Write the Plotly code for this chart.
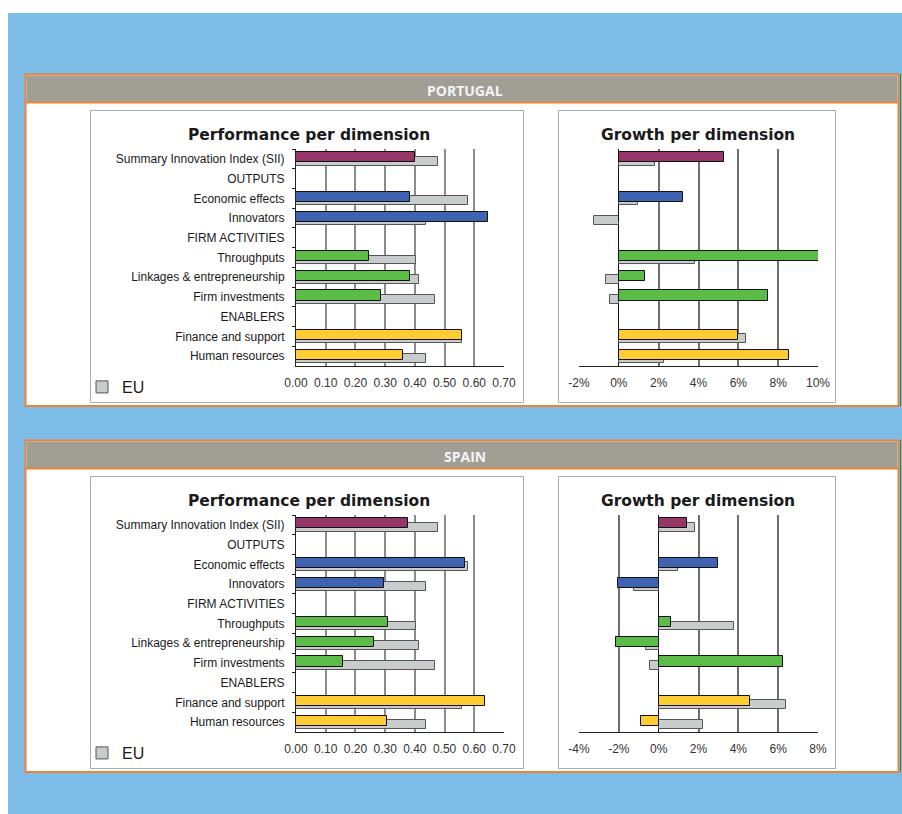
import plotly.graph_objects as go

W, H = 902, 814

# ---------------- data ----------------
categories = ["Summary Innovation Index (SII)", "OUTPUTS", "Economic effects", "Innovators",
              "FIRM ACTIVITIES", "Throughputs", "Linkages & entrepreneurship", "Firm investments",
              "ENABLERS", "Finance and support", "Human resources"]

perf_portugal = [0.40, None, 0.382, 0.645, None, 0.244, 0.382, 0.286, None, 0.560, 0.359]
perf_spain    = [0.378, None, 0.570, 0.295, None, 0.308, 0.261, 0.159, None, 0.636, 0.305]
perf_eu       = [0.477, None, 0.579, 0.436, None, 0.404, 0.414, 0.468, None, 0.560, 0.436]

growth_portugal = [5.26, None, 3.21, 0.0, None, 10.07, 1.31, 7.47, None, 5.97, 8.52]
growth_spain    = [1.41, None, 2.98, -2.05, None, 0.61, -2.15, 6.25, None, 4.57, -0.89]
growth_eu       = [1.80, None, 0.98, -1.25, None, 3.80, -0.62, -0.45, None, 6.40, 2.25]

perf_ticks = [0.0, 0.1, 0.2, 0.3, 0.4, 0.5, 0.6, 0.7]
perf_ticklabels = ["0.00", "0.10", "0.20", "0.30", "0.40", "0.50", "0.60", "0.70"]
growth_ticks_pt = [-2, 0, 2, 4, 6, 8, 10]
growth_ticklabels_pt = ["-2%", "0%", "2%", "4%", "6%", "8%", "10%"]
growth_ticks_es = [-4, -2, 0, 2, 4, 6, 8]
growth_ticklabels_es = ["-4%", "-2%", "0%", "2%", "4%", "6%", "8%"]

countries = ["PORTUGAL", "SPAIN"]

# ---------------- style ----------------
PURPLE, BLUE, GREEN, YELLOW = "#943768", "#3F63B0", "#5BBD47", "#FFCC33"
group_colors = [PURPLE, "white", BLUE, BLUE, "white", GREEN, GREEN, GREEN, "white", YELLOW, YELLOW]
EU_GRAY = "#C9CCCD"
BG_BLUE = "#7CBCE6"
ORANGE = "#EE8433"
HEAD_GRAY = "#A09F96"
TXT = "#1A1A1A"
LABEL_FONT = dict(family="Liberation Sans, Arial", size=12, color=TXT)
TICK_FONT = dict(family="Liberation Sans, Arial", size=12, color="#333333")


def px_x(x):
    return x / W


def px_y(y):
    return 1 - y / H


def xd(a, b):
    return [a / W, b / W]


def yd(top, bottom):
    return [1 - bottom / H, 1 - top / H]


fig = go.Figure()
shapes = []
annotations = []

# page background
shapes.append(dict(type="rect", xref="paper", yref="paper", x0=px_x(8), x1=px_x(902),
                   y0=px_y(814), y1=px_y(13), fillcolor=BG_BLUE, line=dict(width=0), layer="below"))

C_OFF = -0.33
C_W = 0.51
E_OFF = -0.10
E_W = 0.45

for k, (country, perf_c, grow_c, gticks, glabels) in enumerate([
        ("PORTUGAL", perf_portugal, growth_portugal, growth_ticks_pt, growth_ticklabels_pt),
        ("SPAIN", perf_spain, growth_spain, growth_ticks_es, growth_ticklabels_es)]):
    dy = 366 * k
    # outer box
    shapes.append(dict(type="rect", xref="paper", yref="paper", x0=px_x(25.5), x1=px_x(898.5),
                       y0=px_y(406 + dy), y1=px_y(74.5 + dy), fillcolor="white",
                       line=dict(color=ORANGE, width=2), layer="below"))
    shapes.append(dict(type="rect", xref="paper", yref="paper", x0=px_x(26.5), x1=px_x(897.5),
                       y0=px_y(102 + dy), y1=px_y(75.5 + dy), fillcolor=HEAD_GRAY,
                       line=dict(width=0), layer="below"))
    shapes.append(dict(type="line", xref="paper", yref="paper", x0=px_x(26), x1=px_x(898),
                       y0=px_y(102.5 + dy), y1=px_y(102.5 + dy), line=dict(color=ORANGE, width=2),
                       layer="below"))
    shapes.append(dict(type="line", xref="paper", yref="paper", x0=px_x(900.5), x1=px_x(900.5),
                       y0=px_y(406 + dy), y1=px_y(74 + dy), line=dict(color="#3C7F4A", width=1),
                       layer="below"))
    annotations.append(dict(xref="paper", yref="paper", x=px_x(465), y=px_y(90.5 + dy),
                            xanchor="center", yanchor="middle",
                            text="<b>" + country + "</b>", showarrow=False,
                            font=dict(family="Open Sans", size=14, color="#F4F4F4")))
    # inner panels
    for (a, b) in [(90.5, 523.5), (558.5, 835.5)]:
        shapes.append(dict(type="rect", xref="paper", yref="paper", x0=px_x(a), x1=px_x(b),
                           y0=px_y(402.5 + dy), y1=px_y(110.5 + dy), fillcolor="white",
                           line=dict(color="#A9ABAE", width=1), layer="below"))
    annotations.append(dict(xref="paper", yref="paper", x=px_x(309), y=px_y(135 + dy),
                            xanchor="center", yanchor="middle",
                            text="<b>Performance per dimension</b>", showarrow=False,
                            font=dict(family="DejaVu Sans", size=15.5, color=TXT)))
    annotations.append(dict(xref="paper", yref="paper", x=px_x(698), y=px_y(135 + dy),
                            xanchor="center", yanchor="middle",
                            text="<b>Growth per dimension</b>", showarrow=False,
                            font=dict(family="DejaVu Sans", size=15.5, color=TXT)))

    ax_p = 2 * k + 1
    ax_g = 2 * k + 2
    sfx_p = "" if ax_p == 1 else str(ax_p)
    sfx_g = str(ax_g)
    leg = "legend" if k == 0 else "legend2"

    # performance: EU behind, country on top
    fig.add_trace(go.Bar(y=categories, x=perf_eu, orientation="h", name="EU",
                         marker=dict(color=EU_GRAY, line=dict(color="#555555", width=1)),
                         offset=E_OFF, width=E_W, xaxis="x" + sfx_p, yaxis="y" + sfx_p,
                         showlegend=True, legend=leg, hoverinfo="x+y"))
    fig.add_trace(go.Bar(y=categories, x=perf_c, orientation="h", name=country.title(),
                         marker=dict(color=group_colors, line=dict(color="#111111", width=1)),
                         offset=C_OFF, width=C_W, xaxis="x" + sfx_p, yaxis="y" + sfx_p,
                         showlegend=False, hoverinfo="x+y"))
    # growth
    fig.add_trace(go.Bar(y=categories, x=growth_eu, orientation="h", name="EU",
                         marker=dict(color=EU_GRAY, line=dict(color="#555555", width=1)),
                         offset=E_OFF, width=E_W, xaxis="x" + sfx_g, yaxis="y" + sfx_g,
                         showlegend=False, hoverinfo="x+y"))
    fig.add_trace(go.Bar(y=categories, x=grow_c, orientation="h", name=country.title(),
                         marker=dict(color=group_colors, line=dict(color="#111111", width=1)),
                         offset=C_OFF, width=C_W, xaxis="x" + sfx_g, yaxis="y" + sfx_g,
                         showlegend=False, hoverinfo="x+y"))

    top, bottom = 149 + dy, 366 + dy
    yaxis_common = dict(type="category", categoryorder="array", categoryarray=categories,
                        range=[10.5, -0.5], domain=yd(top, bottom), showgrid=False,
                        zeroline=False, fixedrange=True, automargin=False)
    fig.update_layout(**{
        "xaxis" + sfx_p: dict(domain=xd(296, 504), range=[0, 0.7], tickvals=perf_ticks,
                              ticktext=perf_ticklabels, showgrid=True, gridcolor="#8C8C8C",
                              gridwidth=1.5, zeroline=False, showline=True, linecolor="#222222",
                              linewidth=1, ticks="", tickfont=TICK_FONT, automargin=False,
                              ticklabelstandoff=6, anchor="y" + sfx_p, fixedrange=True),
        "yaxis" + sfx_p: dict(**yaxis_common, anchor="x" + sfx_p, showticklabels=True,
                              tickfont=LABEL_FONT, showline=True, linecolor="#222222",
                              linewidth=1, ticks="outside", ticklen=3, tickcolor="#222222",
                              tickson="boundaries", ticklabelstandoff=8),
        "xaxis" + sfx_g: dict(domain=xd(579, 818), range=[gticks[0], gticks[-1]], tickvals=gticks,
                              ticktext=glabels, showgrid=True, gridcolor="#6E6E6E",
                              gridwidth=1.5, zeroline=True, zerolinecolor="#111111",
                              zerolinewidth=1, showline=True, linecolor="#222222", linewidth=1,
                              ticks="", tickfont=TICK_FONT, automargin=False,
                              ticklabelstandoff=6, anchor="y" + sfx_g, fixedrange=True),
        "yaxis" + sfx_g: dict(**yaxis_common, anchor="x" + sfx_g, showticklabels=False,
                              showline=False),
    })
    fig.update_layout(**{leg: dict(x=px_x(82), y=px_y(370 + dy), xanchor="left", yanchor="top",
                                   bgcolor="rgba(0,0,0,0)", borderwidth=0,
                                   font=dict(family="Liberation Sans, Arial", size=16, color=TXT),
                                   itemclick=False, itemdoubleclick=False)})

fig.update_layout(width=W, height=H, autosize=False,
                  margin=dict(l=0, r=0, t=0, b=0, pad=0, autoexpand=False),
                  paper_bgcolor="white", plot_bgcolor="rgba(0,0,0,0)", barmode="overlay",
                  shapes=shapes, annotations=annotations, bargap=0)

fig.write_html("out.html", config={"displayModeBar": False, "responsive": False},
               post_script="document.body.style.margin='0';document.body.style.overflow='hidden';")
